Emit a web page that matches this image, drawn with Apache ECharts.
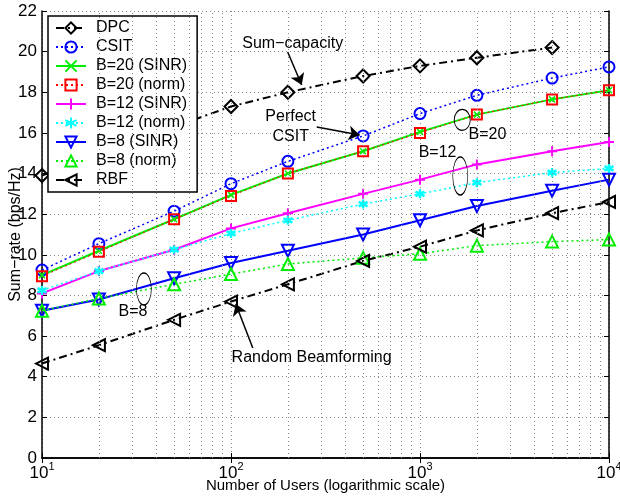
<!DOCTYPE html>
<html>
<head>
<meta charset="utf-8">
<script src="https://cdn.jsdelivr.net/npm/echarts@6/dist/echarts.min.js"></script>
<style>html,body{margin:0;padding:0;background:#fff}#c{width:620px;height:500px}</style>
</head>
<body>
<div id="c"></div>
<script>
const users = [10, 20, 50, 100, 200, 500, 1000, 2000, 5000, 10000];
const dpc   = [13.9, 15.0, 16.3, 17.3, 18.0, 18.8, 19.3, 19.7, 20.2];
const csit  = [9.25, 10.55, 12.15, 13.5, 14.6, 15.85, 16.95, 17.85, 18.7, 19.25];
const b20s  = [9.0, 10.2, 11.75, 12.95, 14.0, 15.1, 16.05, 16.9, 17.65, 18.1];
const b20n  = [8.95, 10.15, 11.75, 12.9, 14.0, 15.1, 16.0, 16.9, 17.65, 18.1];
const b12s  = [8.1, 9.2, 10.25, 11.3, 12.05, 13.0, 13.7, 14.45, 15.1, 15.55];
const b12n  = [8.25, 9.2, 10.25, 11.05, 11.7, 12.5, 13.0, 13.55, 14.05, 14.25];
const b8s   = [7.25, 7.8, 8.85, 9.6, 10.2, 11.0, 11.7, 12.4, 13.15, 13.7];
const b8n   = [7.25, 7.85, 8.55, 9.05, 9.55, 9.85, 10.05, 10.45, 10.65, 10.75];
const rbf   = [4.65, 5.55, 6.8, 7.7, 8.55, 9.7, 10.4, 11.2, 12.05, 12.6];
const names = ['DPC','CSIT','B=20 (SINR)','B=20 (norm)','B=12 (SINR)','B=12 (norm)','B=8 (SINR)','B=8 (norm)','RBF'];
const decades = [10, 100, 1000];
const minorMultipliers = [2,3,4,5,6,7,8,9];

const FONT = 'Liberation Sans, Arial, Helvetica, sans-serif';
const pairs = arr => arr.map((v, i) => [users[i], v]);
const minorX = [];
decades.forEach(d => minorMultipliers.forEach(m => minorX.push(d * m)));

const DASHDOT = [8, 4, 2, 4];
const DOT = [2, 3];
const SYM_X = 'path://M0,0L10,10M10,0L0,10';
const SYM_PLUS = 'path://M5,0L5,10M0,5L10,5';
const SYM_STAR = 'path://M5,0L5,10M0.7,2.5L9.3,7.5M0.7,7.5L9.3,2.5';

function mk(name, data, color, lineType, lineWidth, symbol, size, opts) {
  opts = opts || {};
  return {
    name, type: 'line', data: pairs(data),
    symbol, symbolSize: size,
    symbolRotate: opts.rotate || 0,
    showAllSymbol: true,
    lineStyle: { color, width: lineWidth, type: lineType },
    itemStyle: { color: opts.fill || 'rgba(0,0,0,0)', borderColor: color, borderWidth: opts.bw || 2 },
    emphasis: { disabled: true },
    animation: false, z: 3
  };
}

const series = [
  { type: 'line', data: [], silent: true, z: 1, animation: false,
    markLine: { silent: true, symbol: ['none','none'], label: { show: false }, animation: false,
      lineStyle: { color: '#8a8a8a', type: [1, 3], width: 1 },
      data: minorX.map(v => ({ xAxis: v })) } },
  mk('DPC', dpc, '#000000', DASHDOT, 2, 'diamond', 13),
  mk('CSIT', csit, '#0000ff', DOT, 1.5, 'circle', 11),
  mk('B=20 (SINR)', b20s, '#00ee00', 'solid', 2, SYM_X, 6, { fill: '#00ee00', bw: 1.5 }),
  mk('B=20 (norm)', b20n, '#ff0000', DOT, 1, 'rect', 10),
  mk('B=12 (SINR)', b12s, '#ff00ff', 'solid', 2, SYM_PLUS, 10, { fill: '#ff00ff', bw: 2 }),
  mk('B=12 (norm)', b12n, '#00ffff', DOT, 1.5, SYM_STAR, 9, { fill: '#00ffff', bw: 2.5 }),
  mk('B=8 (SINR)', b8s, '#0000ff', 'solid', 2, 'triangle', 12, { rotate: 180 }),
  mk('B=8 (norm)', b8n, '#00ee00', DOT, 1.5, 'triangle', 12),
  mk('RBF', rbf, '#000000', DASHDOT, 2, 'triangle', 12, { rotate: 90 }),
  { type: 'line', data: [], silent: true, z: 5, animation: false,
    markLine: { silent: true, symbol: ['none', 'arrow'], symbolSize: 11, label: { show: false }, animation: false,
      lineStyle: { color: '#000', type: 'solid', width: 1.5 },
      data: [
        [{ coord: [199.5, 19.98] }, { coord: [236.6, 18.36] }],
        [{ coord: [284, 16.29] }, { coord: [479.6, 15.9] }],
        [{ coord: [130.4, 5.41] }, { coord: [106.0, 7.58] }]
      ] },
    markPoint: { silent: true, animation: false,
      data: [
        { coord: [212, 20.38], value: 'Sum−capacity' },
        { coord: [207, 16.29], value: 'Perfect\nCSIT' },
        { coord: [2275, 15.9], value: 'B=20' },
        { coord: [1239, 15.01], value: 'B=12' },
        { coord: [30.3, 7.19], value: 'B=8' },
        { coord: [267, 4.92], value: 'Random Beamforming' }
      ].map(d => Object.assign(d, {
        symbol: 'circle', symbolSize: 1, itemStyle: { color: 'rgba(0,0,0,0)' },
        label: { show: true, position: 'inside', formatter: d.value, color: '#000',
          fontSize: 16, fontFamily: FONT, lineHeight: 20, align: 'center' }
      })).concat([
        { coord: [1673, 16.64], symbolSize: [16, 21] },
        { coord: [1633, 13.88], symbolSize: [15, 38] },
        { coord: [34.6, 8.32], symbolSize: [15, 32] }
      ].map(d => Object.assign(d, {
        symbol: 'circle', label: { show: false },
        itemStyle: { color: 'rgba(0,0,0,0)', borderColor: '#000', borderWidth: 1 }
      })))
    } }
];

const gridStyle = { show: true, lineStyle: { color: '#8a8a8a', type: [1, 3], width: 1 } };
const axisLineStyle = { show: true, lineStyle: { color: '#000', width: 1.5 } };

const chart = echarts.init(document.getElementById('c'), null, { renderer: 'canvas' });
chart.setOption({
  animation: false,
  backgroundColor: '#fff',
  textStyle: { fontFamily: FONT },
  grid: { left: 42, right: 11, top: 11, bottom: 42, containLabel: false, outerBoundsMode: 'none' },
  legend: {
    data: names, orient: 'vertical', left: 48, top: 16,
    backgroundColor: '#fff', borderColor: '#000', borderWidth: 1.5,
    padding: [4, 10, 4, 7], itemGap: 3, itemWidth: 30, itemHeight: 14,
    textStyle: { fontSize: 16, color: '#000', fontFamily: FONT, lineHeight: 16, padding: [0, 0, 0, 5] },
    selectedMode: false
  },
  xAxis: [{
    type: 'log', logBase: 10, min: 10, max: 10000,
    name: 'Number of Users (logarithmic scale)', nameLocation: 'middle', nameGap: 20,
    nameMoveOverlap: false,
    nameTextStyle: { fontSize: 15, color: '#000', fontFamily: FONT },
    axisLine: axisLineStyle,
    axisTick: { show: true, inside: true, length: 5, lineStyle: { color: '#000' } },
    splitLine: gridStyle,
    axisLabel: {
      margin: 3, color: '#000',
      formatter: v => '{b|10}{s|' + Math.round(Math.log10(v)) + '}',
      rich: {
        b: { fontSize: 17, fontFamily: FONT, color: '#000', verticalAlign: 'bottom', padding: [4, 0, 0, 0] },
        s: { fontSize: 11, fontFamily: FONT, color: '#000', verticalAlign: 'top' }
      }
    }
  }, {
    type: 'log', logBase: 10, min: 10, max: 10000, position: 'top',
    axisLine: axisLineStyle,
    axisTick: { show: true, inside: true, length: 5, lineStyle: { color: '#000' } },
    splitLine: { show: false }, axisLabel: { show: false }
  }],
  yAxis: [{
    type: 'value', min: 0, max: 22, interval: 2,
    name: 'Sum−rate (bps/Hz)', nameLocation: 'middle', nameGap: 18,
    nameMoveOverlap: false,
    nameTextStyle: { fontSize: 16, color: '#000', fontFamily: FONT },
    axisLine: axisLineStyle,
    axisTick: { show: true, inside: true, length: 5, lineStyle: { color: '#000' } },
    splitLine: gridStyle,
    axisLabel: { fontSize: 17, color: '#000', margin: 5, fontFamily: FONT }
  }, {
    type: 'value', min: 0, max: 22, interval: 2, position: 'right',
    axisLine: axisLineStyle,
    axisTick: { show: true, inside: true, length: 5, lineStyle: { color: '#000' } },
    splitLine: { show: false }, axisLabel: { show: false }
  }],
  series: series
});
</script>
</body>
</html>
